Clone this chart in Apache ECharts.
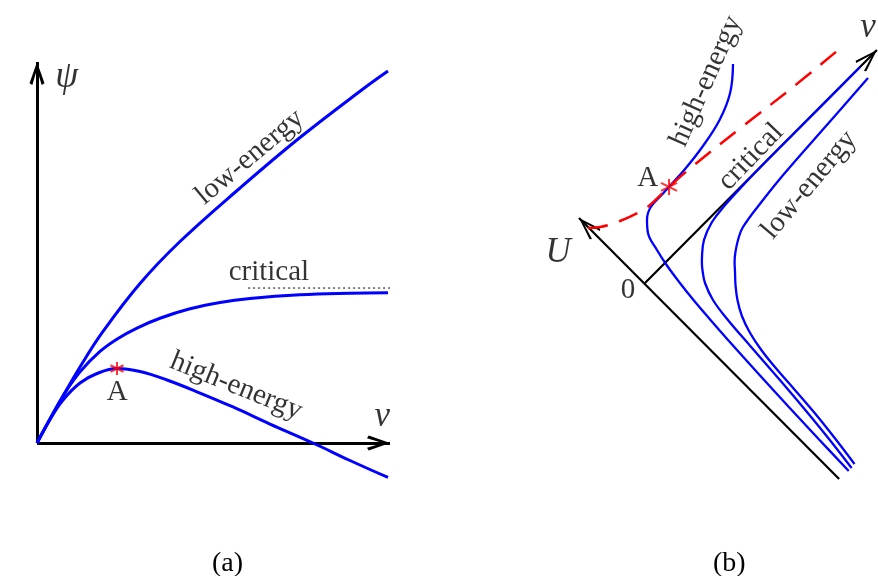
<!DOCTYPE html>
<html><head><meta charset="utf-8">
<script src="https://cdn.jsdelivr.net/npm/echarts@6/dist/echarts.min.js"></script>
<style>html,body{margin:0;padding:0;background:#fff}#c{width:878px;height:576px}</style>
</head><body><div id="c"></div>
<script>
// ---------- Panel (a): psi versus v ----------
const aLowEnergy  = [[0,0],[0.368,0.680],[0.737,1.331],[1.218,2.153],[1.870,3.159],[2.918,4.518],[4.051,5.708],[5.751,7.224],[7.450,8.654],[9.235,10.028],[9.943,10.538]];
const aCritical   = [[0,0],[0.368,0.680],[0.737,1.333],[1.218,2.016],[1.785,2.594],[2.295,2.961],[2.833,3.257],[3.484,3.534],[4.334,3.802],[5.184,3.981],[6.034,4.093],[7.450,4.199],[8.867,4.244],[9.943,4.259]];
const aHighEnergy = [[0,0],[0.368,0.666],[0.737,1.218],[1.218,1.700],[1.700,1.969],[2.266,2.110],[2.918,2.025],[3.683,1.785],[4.618,1.416],[5.552,1.020],[6.601,0.538],[7.819,0],[8.867,-0.496],[9.943,-0.977]];
const aCriticalLevel = [[5.98,4.39],[10.0,4.39]];
const aPointA = [[2.266,2.110]];
const aAxisV   = [[0,0],[10.0,0]];
const aAxisPsi = [[0,0],[0,10.79]];
const aTexts = [
  {t:'ψ', p:[0.84,10.37], rot:0, kind:'math'},
  {t:'v', p:[9.78,0.74], rot:0, kind:'mathBig'},
  {t:'0', p:[-0.57,0.06], rot:0, kind:'text'},
  {t:'A', p:[2.27,1.42], rot:0, kind:'text'},
  {t:'low-energy', p:[6.03,8.10], rot:40, kind:'text'},
  {t:'critical', p:[6.57,4.82], rot:0, kind:'text'},
  {t:'high-energy', p:[5.64,1.61], rot:-22, kind:'text'}
];

// ---------- Panel (b): rotated U / v frame ----------
const bHighEnergy = [[2.493,6.204],[2.411,5.382],[2.116,4.626],[1.632,3.867],[1.147,3.244],[0.680,2.722],[0.530,2.558],[0.156,2.139],[0.057,1.785],[0.085,1.416],[0.340,0.935],[0.612,0.510],[0.989,0],[1.374,-0.482],[1.856,-1.048],[2.365,-1.629],[3.207,-2.564],[4.062,-3.499],[4.918,-4.419],[5.771,-5.326]];
const bCritical   = [[6.091,6.119],[4.407,4.427],[3.265,3.280],[2.700,2.686],[2.269,2.207],[1.898,1.728],[1.671,1.218],[1.615,0.737],[1.612,0.567],[1.632,0.340],[1.700,0],[1.926,-0.482],[2.326,-1.020],[2.983,-1.785],[3.759,-2.677],[4.482,-3.527],[5.167,-4.363],[5.853,-5.241]];
const bLowEnergy  = [[6.317,5.807],[5.127,4.448],[3.938,3.088],[3.343,2.351],[2.776,1.586],[2.635,1.218],[2.558,0.850],[2.538,0.595],[2.550,0.312],[2.564,-0.057],[2.619,-0.482],[2.745,-0.935],[2.977,-1.416],[3.295,-1.898],[3.680,-2.380],[4.246,-3.031],[4.807,-3.683],[5.374,-4.391],[5.935,-5.127]];
const bSeparatrix = [[-1.615,1.558],[-1.275,1.586],[-0.708,1.756],[-0.057,2.068],[0.283,2.337],[0.680,2.722],[1.360,3.314],[2.691,4.377],[4.108,5.482],[5.439,6.572]];
const bPointA = [[0.680,2.722]];
const bAxisU = [[5.50,-5.55],[-1.87,1.84]];
const bAxisV = [[0,0],[6.57,6.60]];
const bTexts = [
  {t:'high-energy', p:[1.73,5.72], rot:66, kind:'text'},
  {t:'critical', p:[3.0,3.57], rot:46, kind:'text'},
  {t:'low-energy', p:[4.65,2.78], rot:50, kind:'text'},
  {t:'A', p:[0.08,2.97], rot:0, kind:'text'},
  {t:'0', p:[-0.48,-0.20], rot:0, kind:'text'},
  {t:'U', p:[-2.46,0.85], rot:0, kind:'mathBig'},
  {t:'v', p:[6.32,7.22], rot:0, kind:'mathBig'}
];
const captions = ['(a)', '(b)'];

// ---------- styling ----------
const BLUE = '#0000ff', RED = '#ff0000';
const SERIF = '"Liberation Serif","DejaVu Serif",serif';
const chevronBold = 'path://M10,0 L20,22 L16.2,23.8 L10,7.5 L3.8,23.8 L0,22 Z';
const chevronThin = 'path://M10,0 L20,22 L17.4,23.4 L10,5.5 L2.6,23.4 L0,22 Z';
const asterisk = 'path://M10,0 L10,20 M1.34,5 L18.66,15 M1.34,15 L18.66,5';
const textStyles = {
  text:    {fontSize: 29, fontStyle: 'normal'},
  math:    {fontSize: 37, fontStyle: 'italic'},
  mathBig: {fontSize: 35, fontStyle: 'italic'}
};

function curve(idx, data, width, extra) {
  return Object.assign({
    type: 'line', xAxisIndex: idx, yAxisIndex: idx, data: data,
    showSymbol: false, symbol: 'none', smooth: 0.4, clip: false, silent: true,
    lineStyle: {color: BLUE, width: width}, z: 5
  }, extra || {});
}
function axes(idx, lines, width, head, size) {
  return {
    type: 'line', xAxisIndex: idx, yAxisIndex: idx, data: [], symbol: 'none', silent: true, z: 3,
    markLine: {
      silent: true, animation: false,
      symbol: ['none', head], symbolSize: size, symbolOffset: [[0, 0], [0, size[1] / 2]],
      label: {show: false},
      lineStyle: {color: '#000', width: width, type: 'solid'},
      emphasis: {disabled: true},
      data: lines.map(l => [{coord: l[0]}, {coord: l[1]}])
    }
  };
}
function star(idx, data, size, bw) {
  return {
    type: 'scatter', xAxisIndex: idx, yAxisIndex: idx, data: data, symbol: asterisk,
    symbolSize: size, silent: true, z: 8,
    itemStyle: {color: 'rgba(0,0,0,0)', borderColor: RED, borderWidth: bw}
  };
}
function texts(idx, list) {
  return {
    type: 'scatter', xAxisIndex: idx, yAxisIndex: idx, symbolSize: 0, silent: true, z: 10,
    data: list.map(d => ({
      value: d.p,
      label: Object.assign({
        show: true, position: 'inside', formatter: d.t, rotate: d.rot,
        color: '#000', fontFamily: SERIF, align: 'center', verticalAlign: 'middle'
      }, textStyles[d.kind])
    }))
  };
}

const chart = echarts.init(document.getElementById('c'), null, {renderer: 'canvas'});
const capStyle = {fontFamily: SERIF, fontWeight: 'normal', fontSize: 28, color: '#000'};
chart.setOption({
  animation: false,
  backgroundColor: '#fff',
  title: [
    {text: captions[0], left: 207, top: 545, textStyle: capStyle},
    {text: captions[1], left: 708, top: 545, textStyle: capStyle}
  ],
  grid: [
    {left: 37, top: 54.7, width: 370.65, height: 441.25, outerBoundsMode: 'none', containLabel: false},
    {left: 542.63, top: 0.6, width: 338.88, height: 494.2, outerBoundsMode: 'none', containLabel: false}
  ],
  xAxis: [
    {type: 'value', gridIndex: 0, min: 0, max: 10.5, show: false},
    {type: 'value', gridIndex: 1, min: -2.9, max: 6.7, show: false}
  ],
  yAxis: [
    {type: 'value', gridIndex: 0, min: -1.5, max: 11, show: false},
    {type: 'value', gridIndex: 1, min: -6, max: 8, show: false}
  ],
  series: [
    axes(0, [aAxisV, aAxisPsi], 3, chevronBold, [15, 23]),
    curve(0, aLowEnergy, 3),
    curve(0, aCritical, 3),
    curve(0, aHighEnergy, 3),
    curve(0, aCriticalLevel, 1, {smooth: false, lineStyle: {color: '#000', width: 1, type: [2, 3]}}),
    star(0, aPointA, 13, 2),
    texts(0, aTexts),

    axes(1, [bAxisU, bAxisV], 2.2, chevronThin, [15, 24]),
    curve(1, bHighEnergy, 2.3),
    curve(1, bCritical, 2.3),
    curve(1, bLowEnergy, 2.3),
    curve(1, bSeparatrix, 2.5, {lineStyle: {color: RED, width: 2.5, type: [20, 12]}, z: 6}),
    star(1, bPointA, 16, 2),
    texts(1, bTexts)
  ]
});
</script>
</body></html>
